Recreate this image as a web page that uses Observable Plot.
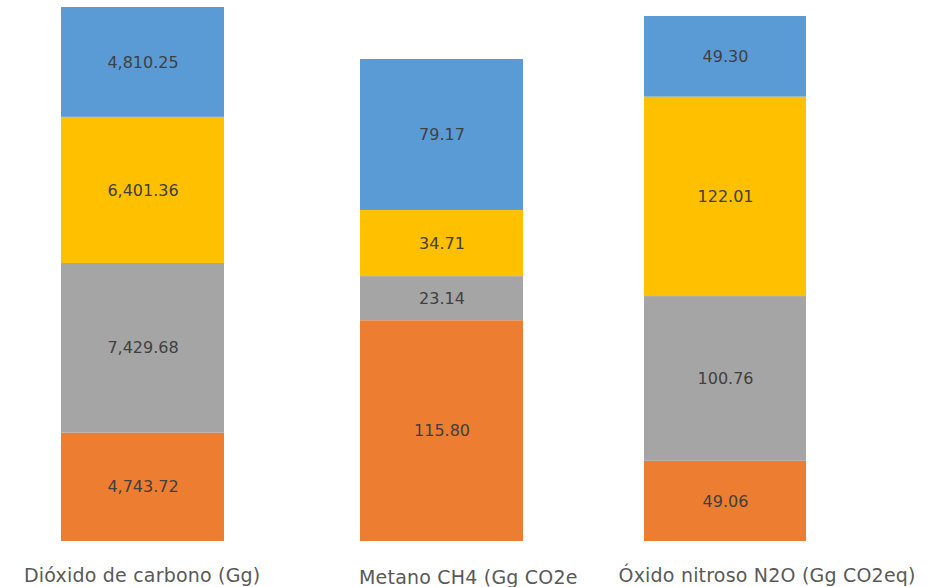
<!DOCTYPE html>
<html>
<head>
<meta charset="utf-8">
<script src="https://cdn.jsdelivr.net/npm/d3@7"></script>
<script src="https://cdn.jsdelivr.net/npm/@observablehq/plot@0.6"></script>
<style>
  html, body { margin: 0; padding: 0; background: #fff; }
  #chart { position: relative; width: 938px; height: 587px; overflow: hidden; font-family: "DejaVu Sans", sans-serif; }
  .panel { position: absolute; top: 0; height: 587px; overflow: hidden; }
  .panel svg { max-width: none; display: block; }
</style>
</head>
<body>
<div id="chart"></div>
<script>
// Emission categories, one stacked column each
const categories = ["Dióxido de carbono (Gg)", "Metano CH4 (Gg CO2eq)", "Óxido nitroso N2O (Gg CO2eq)"];

// Series listed from the bottom of each column to the top
const seriesNames = ["Serie 1", "Serie 2", "Serie 3", "Serie 4"];
const serie1 = [4743.72, 115.80, 49.06];
const serie2 = [7429.68, 23.14, 100.76];
const serie3 = [6401.36, 34.71, 122.01];
const serie4 = [4810.25, 79.17, 49.30];
const seriesValues = [serie1, serie2, serie3, serie4];
const seriesColors = ["#ED7D31", "#A5A5A5", "#FFC000", "#5B9BD5"];

const fmt = d3.format(",.2f");

// Each column is its own small chart with an independent vertical scale
const panels = [
  {left: 0,   width: 300, marginLeft: 61, marginRight: 76,  marginTop: 7,  labelDx: -119, labelPad: 27},
  {left: 300, width: 278, marginLeft: 60, marginRight: 55,  marginTop: 59, labelDx: -83,  labelPad: 29},
  {left: 578, width: 360, marginLeft: 66, marginRight: 132, marginTop: 16, labelDx: -107, labelPad: 27}
];

const chart = document.getElementById("chart");

categories.forEach((category, i) => {
  const rows = seriesNames.map((serie, j) => ({category, serie, value: seriesValues[j][i]}));
  const p = panels[i];
  const svg = Plot.plot({
    width: p.width,
    height: 587,
    marginTop: p.marginTop,
    marginBottom: 46,
    marginLeft: p.marginLeft,
    marginRight: p.marginRight,
    style: {fontFamily: "DejaVu Sans, sans-serif", background: "#fff"},
    x: {domain: [category], padding: 0, axis: null},
    y: {axis: null},
    color: {domain: seriesNames, range: seriesColors},
    marks: [
      Plot.barY(rows, Plot.stackY({x: "category", y: "value", fill: "serie"})),
      Plot.text(rows, Plot.stackY({
        x: "category", y: "value",
        text: d => fmt(d.value),
        fill: "#404040", fontSize: 16
      })),
      Plot.axisX({
        tickSize: 0, tickPadding: p.labelPad, textAnchor: "start", dx: p.labelDx,
        fontSize: 19, fill: "#595959", label: null
      })
    ]
  });
  svg.querySelectorAll("[aria-label='x-axis tick label'] text").forEach(t => t.setAttribute("letter-spacing", "0.2"));
  const div = document.createElement("div");
  div.className = "panel";
  div.style.left = p.left + "px";
  div.style.width = p.width + "px";
  div.appendChild(svg);
  chart.appendChild(div);
});
</script>
</body>
</html>
